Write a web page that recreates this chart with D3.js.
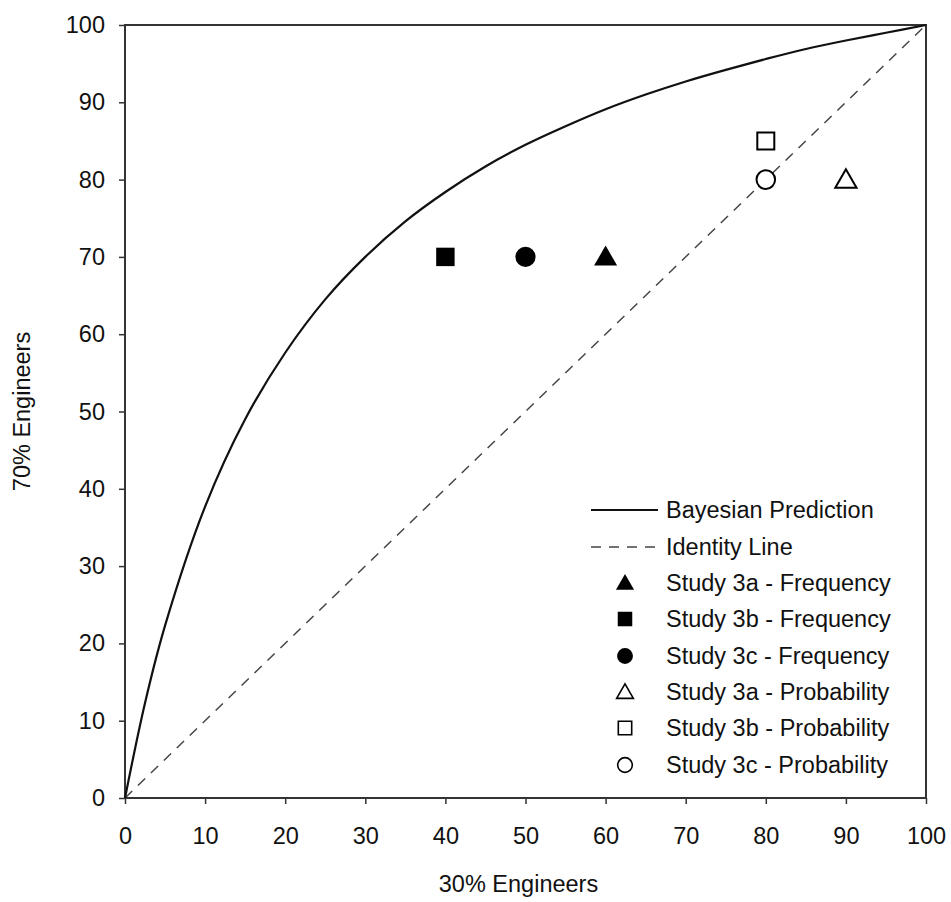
<!DOCTYPE html>
<html><head><meta charset="utf-8">
<script src="https://cdn.jsdelivr.net/npm/d3@7"></script>
<style>body{margin:0;background:#fff}svg{display:block}text{font-family:Arial,"Liberation Sans",sans-serif;fill:#111}</style>
</head><body><svg id="c" width="951" height="902"></svg>
<script>
// Bayesian prediction curve
const bayesX = [0, 2.5, 5, 10, 15, 20, 25, 30, 35, 40, 45, 50, 55, 60, 65, 70, 75, 80, 85, 90, 95, 100];
const bayesY = [0, 12.3, 22.3, 37.7, 49.0, 57.6, 64.5, 70.0, 74.6, 78.4, 81.7, 84.5, 86.9, 89.1, 91.0, 92.7, 94.2, 95.6, 96.9, 98.0, 99.0, 100];
const identityX = [0, 100];
const identityY = [0, 100];
// Study points
const studyNames = ["Study 3a - Frequency","Study 3b - Frequency","Study 3c - Frequency","Study 3a - Probability","Study 3b - Probability","Study 3c - Probability"];
const studyX = [60, 40, 50, 90, 80, 80];
const studyY = [70, 70, 70, 80, 85, 80];
const studyShape = ["triangle","square","circle","triangle","square","circle"];
const studyFilled = [true, true, true, false, false, false];
const xTicks = [0,10,20,30,40,50,60,70,80,90,100];
const yTicks = [0,10,20,30,40,50,60,70,80,90,100];

const FS = "23.5px";
const svg = d3.select("#c");
const L=125, R=926, T=25, B=798;
const x = d3.scaleLinear().domain([0,100]).range([L,R]);
const y = d3.scaleLinear().domain([0,100]).range([B,T]);

// axes
const xa = svg.append("g").attr("transform",`translate(0,${B})`)
  .call(d3.axisBottom(x).tickValues(xTicks).tickSize(6).tickPadding(23));
const ya = svg.append("g").attr("transform",`translate(${L},0)`)
  .call(d3.axisLeft(y).tickValues(yTicks).tickSize(6).tickPadding(14));
[xa,ya].forEach(a=>{
  a.select(".domain").remove();
  a.selectAll("line").attr("stroke","#333").attr("stroke-width",1.5);
  a.selectAll("text").style("font-size",FS).attr("fill","#111");
});
// frame
svg.append("rect").attr("x",L).attr("y",T).attr("width",R-L).attr("height",B-T)
  .attr("fill","none").attr("stroke","#333").attr("stroke-width",2);

const line = d3.line().x(d=>x(d[0])).y(d=>y(d[1]));
svg.append("path").datum(identityX.map((v,i)=>[v,identityY[i]]))
  .attr("d",line).attr("fill","none").attr("stroke","#444").attr("stroke-width",1.5)
  .attr("stroke-dasharray","10,8");
svg.append("path").datum(bayesX.map((v,i)=>[v,bayesY[i]]))
  .attr("d",line.curve(d3.curveCatmullRom)).attr("fill","none").attr("stroke","#111").attr("stroke-width",2.2);

function sym(shape, size){
  const t = shape==="triangle"?d3.symbolTriangle:shape==="square"?d3.symbolSquare:d3.symbolCircle;
  return d3.symbol().type(t).size(size)();
}
function sizeFor(shape, filled, scale){
  const base = shape==="square"? 340 : shape==="circle"? 320 : 230;
  return base*(filled?1:0.85)*scale;
}
studyX.forEach((v,i)=>{
  svg.append("path").attr("d",sym(studyShape[i],sizeFor(studyShape[i],studyFilled[i],1)))
    .attr("transform",`translate(${x(v)},${y(studyY[i])+(studyShape[i]==="triangle"?2:0)})`)
    .attr("fill",studyFilled[i]?"#000":"#fff").attr("stroke","#000").attr("stroke-width",studyFilled[i]?0:2);
});

// legend
const lg = svg.append("g");
const rowY = [510,547,583,619,656,692,728,765];
const lx0=591, lx1=658, tx=666;
lg.append("line").attr("x1",lx0).attr("x2",lx1).attr("y1",rowY[0]).attr("y2",rowY[0]).attr("stroke","#111").attr("stroke-width",2.2);
lg.append("text").attr("x",tx).attr("y",rowY[0]).attr("dy","0.35em").style("font-size",FS).text("Bayesian Prediction");
lg.append("line").attr("x1",lx0).attr("x2",lx1).attr("y1",rowY[1]).attr("y2",rowY[1]).attr("stroke","#444").attr("stroke-width",1.5).attr("stroke-dasharray","10,8");
lg.append("text").attr("x",tx).attr("y",rowY[1]).attr("dy","0.35em").style("font-size",FS).text("Identity Line");
studyNames.forEach((n,i)=>{
  const yy=rowY[i+2];
  lg.append("path").attr("d",sym(studyShape[i],sizeFor(studyShape[i],studyFilled[i],0.62)))
    .attr("transform",`translate(625,${yy+(studyShape[i]==="triangle"?1.5:0)})`)
    .attr("fill",studyFilled[i]?"#000":"#fff").attr("stroke","#000").attr("stroke-width",studyFilled[i]?0:1.6);
  lg.append("text").attr("x",tx).attr("y",yy).attr("dy","0.35em").style("font-size",FS).text(n);
});

// axis titles
svg.append("text").attr("x",(L+R)/2-7).attr("y",892).attr("text-anchor","middle").style("font-size",FS).text("30% Engineers");
svg.append("text").attr("transform",`translate(30,${(T+B)/2}) rotate(-90)`).attr("text-anchor","middle").style("font-size",FS).text("70% Engineers");
</script></body></html>
